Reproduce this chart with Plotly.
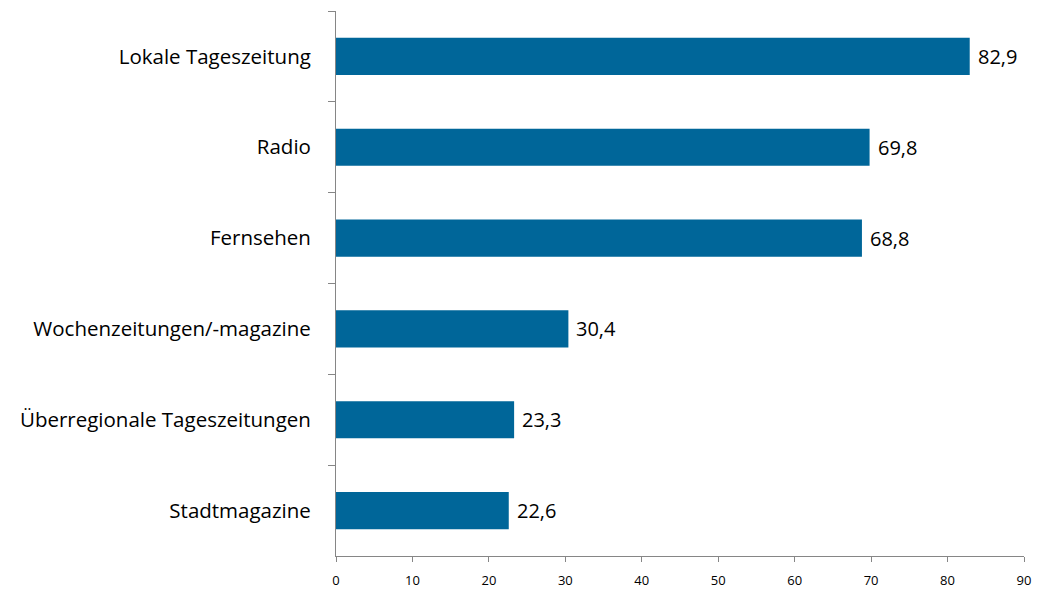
import plotly.graph_objects as go

categories = [
    "Lokale Tageszeitung",
    "Radio",
    "Fernsehen",
    "Wochenzeitungen/-magazine",
    "Überregionale Tageszeitungen",
    "Stadtmagazine",
]
values = [82.9, 69.8, 68.8, 30.4, 23.3, 22.6]
x_ticks = [0, 10, 20, 30, 40, 50, 60, 70, 80, 90]

bar_color = "#006699"
axis_color = "#868686"
font_family = "'Open Sans', Lato, sans-serif"

labels = [f"{v:.1f}".replace(".", ",") for v in values]

fig = go.Figure(
    go.Bar(
        x=values,
        y=categories,
        orientation="h",
        width=0.41,
        marker=dict(color=bar_color, line=dict(width=0)),
        hoverinfo="skip",
    )
)

# value labels to the right of each bar
for cat, val, lab in zip(categories, values, labels):
    fig.add_annotation(
        x=val,
        y=cat,
        text=lab,
        showarrow=False,
        xanchor="left",
        yanchor="middle",
        xshift=6,
        font=dict(family=font_family, size=20, color="#000000"),
    )

fig.update_layout(
    width=1038,
    height=589,
    margin=dict(l=336, r=14, t=11, b=33, autoexpand=False),
    paper_bgcolor="white",
    plot_bgcolor="white",
    showlegend=False,
    font=dict(family=font_family, color="#000000"),
)

fig.update_xaxes(
    range=[0, 90],
    tickvals=x_ticks,
    ticktext=[str(t) for t in x_ticks],
    showgrid=False,
    zeroline=False,
    showline=True,
    linecolor=axis_color,
    linewidth=1,
    ticks="outside",
    ticklen=5,
    tickcolor=axis_color,
    tickfont=dict(family=font_family, size=13, color="#000000"),
    ticklabelstandoff=7,
    automargin=False,
)

fig.update_yaxes(
    type="category",
    categoryorder="array",
    categoryarray=categories,
    autorange="reversed",
    showgrid=False,
    zeroline=False,
    showline=True,
    linecolor=axis_color,
    linewidth=1,
    ticks="outside",
    tickson="boundaries",
    ticklen=7,
    tickcolor=axis_color,
    tickfont=dict(family=font_family, size=20.5, color="#000000"),
    ticklabelstandoff=20,
    automargin=False,
)

fig.write_html("out.html")
